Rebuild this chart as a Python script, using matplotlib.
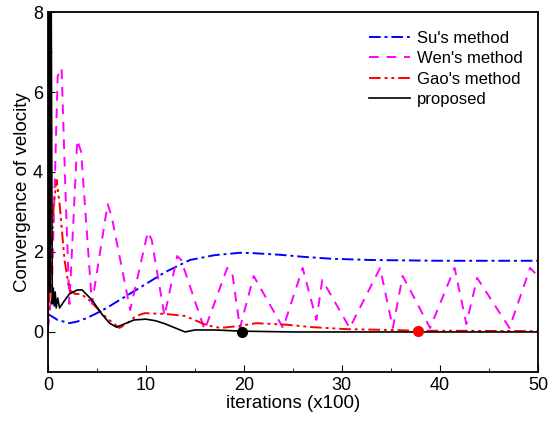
import matplotlib
matplotlib.use('Agg')
import matplotlib.pyplot as plt
from matplotlib.ticker import MultipleLocator

plt.rcParams['font.family'] = ['Liberation Sans', 'DejaVu Sans']

# Su's method
su_x = [0, 1, 2.2, 3, 4, 5, 6, 8, 10, 12, 14.5, 17, 19.6, 21, 23.7, 26, 29, 32.9, 40, 50]
su_y = [0.45, 0.3, 0.22, 0.26, 0.35, 0.47, 0.6, 0.9, 1.2, 1.5, 1.8, 1.92, 1.98, 1.97, 1.93, 1.88, 1.83, 1.8, 1.78, 1.78]

# Wen's method
wen_x = [0, 0.4, 1.0, 1.4, 1.8, 2.2, 3.0, 3.4, 4.5, 6.1, 6.5, 8.4, 10.2, 10.6, 11.9, 13.2, 13.6,
         16.0, 18.3, 18.8, 19.6, 21.0, 24.0, 26.0, 27.4, 28.0, 30.8, 33.9, 35.2, 36.2, 39.0,
         41.5, 42.7, 43.8, 47.1, 49.2, 50]
wen_y = [0.1, 1.0, 6.4, 6.6, 3.5, 0.7, 4.8, 4.5, 0.7, 3.2, 2.9, 0.55, 2.5, 2.3, 0.4, 1.9, 1.8,
         0.05, 1.6, 1.5, 0.1, 1.4, 0.1, 1.6, 0.3, 1.3, 0.1, 1.6, 0.1, 1.4, 0.1,
         1.6, 0.2, 1.35, 0.1, 1.6, 1.4]

# Gao's method
gao_x = [0, 0.3, 0.6, 0.9, 1.2, 1.7, 2.2, 2.8, 3.3, 4.0, 5.0, 6.0, 7.3, 8.0, 9.0, 9.9, 12.0, 14.0,
         16.2, 17.6, 19.5, 21.3, 24.4, 27, 30.5, 35, 37.8, 42, 50]
gao_y = [0, 1.5, 3.2, 3.8, 3.2, 1.8, 1.05, 0.95, 0.95, 0.85, 0.6, 0.35, 0.1, 0.2, 0.4, 0.47, 0.45, 0.4,
         0.17, 0.1, 0.15, 0.22, 0.18, 0.12, 0.07, 0.05, 0.03, 0.03, 0.02]

# proposed
pro_x = [0, 0.08, 0.12, 0.2, 0.28, 0.34, 0.45, 0.55, 0.65, 0.75, 0.85, 1.0, 1.2, 1.6, 2.2, 3.0, 3.5,
         4.5, 5.5, 6.3, 7.0, 7.8, 8.8, 10, 11, 12, 13, 14, 15, 17, 19.8, 25, 50]
pro_y = [0, 8.5, 8.5, 1.0, 8.5, 8.5, 0.7, 1.1, 0.65, 1.0, 0.6, 0.85, 0.6, 0.75, 0.95, 1.05, 1.05,
         0.8, 0.45, 0.22, 0.12, 0.2, 0.3, 0.32, 0.28, 0.2, 0.1, 0.0, 0.05, 0.05, 0.02, 0, 0]

# convergence markers
dot_black = (19.8, 0.0)
dot_red = (37.8, 0.03)

fig = plt.figure(figsize=(5.5, 4.3), dpi=100)
ax = fig.add_axes([0.087, 0.135, 0.891, 0.837])

ax.plot(su_x, su_y, color='blue', lw=1.4, dashes=(6, 2, 1.5, 2), label="Su's method")
ax.plot(wen_x, wen_y, color='#ff00ff', lw=1.4, dashes=(5, 4), label="Wen's method")
ax.plot(gao_x, gao_y, color='red', lw=1.4, dashes=(6, 2, 1.5, 2, 1.5, 2), label="Gao's method")
ax.plot(pro_x, pro_y, color='black', lw=1.2, label='proposed')
ax.plot(*dot_black, 'o', color='black', ms=7)
ax.plot(*dot_red, 'o', color='red', ms=7)

ax.set_xlim(0, 50)
ax.set_ylim(-1, 8)
ax.set_yticks([0, 2, 4, 6, 8])
ax.xaxis.set_major_locator(MultipleLocator(10))
ax.xaxis.set_minor_locator(MultipleLocator(5))
ax.yaxis.set_minor_locator(MultipleLocator(1))
ax.tick_params(which='both', direction='in', labelsize=13)
ax.tick_params(which='major', length=5)
ax.tick_params(which='minor', length=3)
for s in ax.spines.values():
    s.set_linewidth(1.3)

ax.set_xlabel('iterations (x100)', fontsize=13.5, labelpad=1)
ax.set_ylabel('Convergence of velocity', fontsize=13.5, labelpad=1)

ax.legend(loc='upper right', frameon=False, fontsize=12, handlelength=2.5,
          labelspacing=0.33, handletextpad=0.4, bbox_to_anchor=(1.0, 0.99))

fig.savefig('out.png', dpi=100)
